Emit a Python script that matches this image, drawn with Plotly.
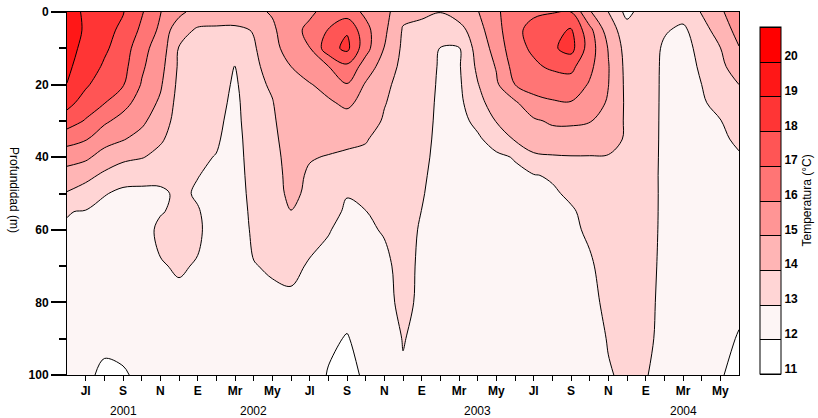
import numpy as np
import plotly.graph_objects as go

# Sample depths (m), top to bottom
depths = [0, 5, 10, 15, 20, 25, 30, 35, 40, 45, 50, 55, 60, 70, 80, 90, 100]

# Monthly temperature profiles (degC); month index 0 = June 2001
profiles_2001 = [  # Jun - Dec 2001
    [19.8, 19.6, 19.4, 19.2, 18.98, 18.34, 17.48, 16.4, 15.4, 14.6, 13.93, 13.03, 12.94, 12.8, 12.7, 12.55, 12.4],
    [18.7, 18.85, 18.7, 18.5, 18.15, 17.56, 16.92, 16.08, 15.18, 14.3, 13.55, 12.95, 12.85, 12.7, 12.5, 12.3, 12.1],
    [18.4, 18.3, 18.15, 17.88, 17.46, 17.04, 16.18, 15.38, 14.6, 13.81, 13.03, 12.85, 12.7, 12.5, 12.3, 12.12, 11.9],
    [18.05, 17.8, 17.56, 17.32, 17.07, 16.36, 15.65, 15.06, 14.31, 13.2, 12.9, 12.8, 12.7, 12.5, 12.3, 12.15, 11.95],
    [17.1, 16.8, 16.3, 16.15, 15.93, 15.56, 15.19, 14.69, 14.06, 13.15, 12.9, 12.8, 12.7, 12.5, 12.35, 12.2, 12.1],
    [16.03, 15.8, 15.57, 15.35, 15.13, 14.85, 14.5, 14.14, 13.7, 13.24, 12.85, 12.95, 13.15, 12.95, 12.75, 12.55, 12.35],
    [15.3, 14.3, 13.95, 13.85, 13.75, 13.65, 13.6, 13.5, 13.35, 13.22, 13.15, 13.15, 13.15, 13.07, 12.85, 12.6, 12.4],
]
profiles_2002 = [  # Jan - Dec 2002
    [14.5, 13.9, 13.75, 13.62, 13.5, 13.4, 13.3, 13.2, 13.12, 13.02, 12.92, 13.05, 13.12, 12.95, 12.8, 12.6, 12.4],
    [14.5, 13.85, 13.7, 13.55, 13.45, 13.35, 13.2, 13.1, 12.97, 12.85, 12.75, 12.7, 12.65, 12.6, 12.5, 12.4, 12.3],
    [14.6, 13.8, 13.25, 12.97, 12.85, 12.75, 12.7, 12.65, 12.6, 12.57, 12.55, 12.52, 12.5, 12.45, 12.4, 12.35, 12.3],
    [14.75, 14.05, 13.9, 13.8, 13.7, 13.65, 13.6, 13.5, 13.45, 13.38, 13.3, 13.22, 13.15, 12.97, 12.8, 12.6, 12.45],
    [15.1, 14.8, 14.59, 14.36, 14.14, 13.95, 13.85, 13.75, 13.65, 13.62, 13.6, 13.5, 13.4, 13.08, 12.85, 12.6, 12.45],
    [15.7, 15.7, 15.55, 15.0, 14.85, 14.75, 14.6, 14.5, 14.4, 14.3, 14.22, 13.98, 13.75, 13.25, 12.8, 12.6, 12.45],
    [15.85, 16.2, 15.98, 15.4, 14.95, 14.75, 14.5, 14.3, 14.06, 13.88, 13.8, 13.55, 13.35, 12.9, 12.75, 12.6, 12.4],
    [16.3, 17.05, 17.6, 15.98, 15.25, 14.9, 14.6, 14.3, 13.95, 13.75, 13.55, 13.35, 13.05, 12.75, 12.45, 12.15, 11.95],
    [16.5, 17.9, 18.25, 16.8, 15.95, 15.15, 14.7, 14.2, 13.85, 13.5, 13.05, 12.85, 12.75, 12.55, 12.3, 11.95, 11.8],
    [15.8, 16.3, 16.35, 15.55, 14.9, 14.75, 14.45, 14.05, 13.85, 13.6, 13.3, 12.98, 12.9, 12.75, 12.5, 12.3, 12.1],
    [15.35, 15.2, 14.97, 14.55, 14.2, 14.05, 13.9, 13.75, 13.62, 13.5, 13.38, 13.25, 13.05, 12.85, 12.75, 12.45, 12.3],
    [14.25, 13.92, 13.82, 13.75, 13.68, 13.62, 13.56, 13.5, 13.45, 13.4, 13.35, 13.3, 13.25, 13.22, 13.2, 13.04, 12.92],
]
profiles_2003 = [  # Jan - Dec 2003
    [14.1, 13.85, 13.75, 13.68, 13.6, 13.52, 13.45, 13.35, 13.25, 13.15, 13.07, 12.99, 12.93, 12.88, 12.85, 12.78, 12.7],
    [14.02, 13.45, 12.97, 12.85, 12.8, 12.75, 12.72, 12.7, 12.68, 12.65, 12.63, 12.6, 12.58, 12.55, 12.5, 12.45, 12.4],
    [14.5, 13.6, 12.95, 12.9, 12.85, 12.8, 12.75, 12.72, 12.7, 12.67, 12.65, 12.63, 12.6, 12.55, 12.5, 12.45, 12.4],
    [14.95, 14.65, 14.4, 14.2, 13.95, 13.6, 13.2, 12.88, 12.8, 12.75, 12.72, 12.7, 12.68, 12.63, 12.58, 12.5, 12.45],
    [15.8, 15.6, 15.35, 15.07, 14.85, 14.6, 14.05, 13.35, 12.85, 12.8, 12.75, 12.72, 12.7, 12.66, 12.62, 12.55, 12.5],
    [16.7, 16.85, 16.7, 16.4, 16.0, 14.85, 14.5, 14.1, 13.05, 12.85, 12.8, 12.75, 12.72, 12.68, 12.62, 12.55, 12.5],
    [16.9, 17.2, 17.15, 16.85, 16.3, 15.75, 14.85, 14.45, 13.85, 12.95, 12.85, 12.8, 12.78, 12.72, 12.66, 12.6, 12.55],
    [16.95, 17.65, 17.85, 17.15, 16.5, 15.9, 15.15, 14.55, 13.92, 13.1, 12.88, 12.82, 12.8, 12.75, 12.7, 12.65, 12.6],
    [17.0, 18.1, 18.35, 17.25, 16.6, 15.95, 15.15, 14.6, 13.95, 13.55, 13.15, 12.9, 12.85, 12.8, 12.75, 12.7, 12.65],
    [15.1, 16.3, 16.5, 16.25, 15.9, 15.5, 15.05, 14.55, 13.95, 13.65, 13.42, 13.25, 13.12, 12.9, 12.8, 12.7, 12.65],
    [14.0, 14.5, 14.95, 15.05, 15.02, 14.9, 14.6, 14.3, 13.95, 13.75, 13.6, 13.5, 13.42, 13.3, 13.17, 13.04, 12.95],
    [12.7, 13.45, 13.6, 13.7, 13.75, 13.8, 13.85, 13.9, 13.8, 13.7, 13.6, 13.52, 13.45, 13.35, 13.25, 13.18, 13.12],
]
profiles_2004 = [  # Jan - Jun 2004
    [13.55, 13.6, 13.58, 13.55, 13.52, 13.5, 13.48, 13.46, 13.43, 13.4, 13.37, 13.34, 13.3, 13.22, 13.15, 13.1, 13.02],
    [13.3, 13.1, 12.85, 12.8, 12.8, 12.8, 12.8, 12.8, 12.8, 12.8, 12.82, 12.83, 12.84, 12.85, 12.86, 12.87, 12.87],
    [13.4, 12.8, 12.7, 12.65, 12.62, 12.6, 12.58, 12.56, 12.55, 12.53, 12.52, 12.5, 12.48, 12.45, 12.42, 12.38, 12.35],
    [14.05, 13.6, 13.25, 13.12, 13.0, 12.88, 12.8, 12.75, 12.72, 12.7, 12.68, 12.65, 12.62, 12.57, 12.52, 12.47, 12.42],
    [14.85, 14.45, 13.98, 13.8, 13.6, 13.32, 12.97, 12.85, 12.8, 12.75, 12.7, 12.65, 12.6, 12.5, 12.35, 12.2, 12.05],
    [15.6, 15.35, 14.95, 14.45, 14.0, 13.72, 13.42, 13.15, 12.92, 12.82, 12.72, 12.62, 12.52, 12.35, 12.15, 11.95, 11.8],
]

# Isotherm levels and fill colour of each 1-degree band (11-12 ... 20-21)
levels = [11, 12, 13, 14, 15, 16, 17, 18, 19, 20, 21]
band_colors = ["#FFFFFF", "#FDF5F5", "#FFD5D5", "#FFB5B5", "#FF9595",
               "#FF7575", "#FF5555", "#FF3535", "#FF1717", "#FF0000"]

# Month ticks (one per month) and their labels
month_ticks = list(range(1, 36))
month_labels = ["Jl", "", "S", "", "N", "", "E", "", "Mr", "", "My", "",
                "Jl", "", "S", "", "N", "", "E", "", "Mr", "", "My", "",
                "Jl", "", "S", "", "N", "", "E", "", "Mr", "", "My"]
year_labels = ["2001", "2002", "2003", "2004"]
year_label_months = [3, 10, 22, 33]

profiles = profiles_2001 + profiles_2002 + profiles_2003 + profiles_2004
months = list(range(len(profiles)))
z = np.array(profiles).T  # rows = depth, columns = month

zmin, zmax = levels[0], levels[-1]
nb = len(band_colors)

# Filled-contour colour map: below first level, each band, above last level
stop_colors = [band_colors[0]] + band_colors + [band_colors[-1]]
n = len(stop_colors) - 1
fill_scale = [[i / n, c] for i, c in enumerate(stop_colors)]

# Stepped scale over [zmin, zmax] used for the colour bar
step_scale = []
for i, c in enumerate(band_colors):
    step_scale.append([i / nb, c])
    step_scale.append([(i + 1) / nb, c])

FONT = "Liberation Sans, Arial, sans-serif"
contour_levels = dict(start=zmin, end=zmax, size=1)

fig = go.Figure()

# Temperature section
fig.add_trace(go.Contour(
    x=months, y=depths, z=z,
    colorscale=fill_scale,
    contours=dict(**contour_levels, coloring="fill", showlines=True),
    line=dict(color="black", width=1, smoothing=1.0),
    showscale=False,
    hoverinfo="skip",
))

# Legend bar for the isotherm bands (trace itself lies outside the x range)
fig.add_trace(go.Contour(
    x=[-3, -2], y=[0, 100], z=[[zmin, zmax], [zmin, zmax]],
    zmin=zmin, zmax=zmax,
    colorscale=step_scale,
    contours=dict(**contour_levels, coloring="heatmap", showlines=True),
    line=dict(color="black", width=1),
    hoverinfo="skip",
    colorbar=dict(
        x=1.031, xanchor="left", xpad=0,
        y=0.003, yanchor="bottom", ypad=0,
        len=347, lenmode="pixels", thickness=21,
        outlinewidth=1, outlinecolor="black",
        tickvals=[v + 0.16 for v in levels[:-1]],
        ticktext=[str(v) for v in levels[:-1]],
        ticks="",
        tickfont=dict(family=FONT, size=12, color="black", weight="bold"),
        title=dict(text="Temperatura (°C)", side="right",
                   font=dict(family=FONT, size=12, color="black")),
    ),
))

fig.update_xaxes(
    range=[0, 36],
    tickvals=month_ticks, ticktext=month_labels,
    ticks="outside", ticklen=5, tickcolor="black", tickwidth=1,
    tickfont=dict(family=FONT, size=12, color="black", weight="bold"),
    showline=True, mirror=True, linecolor="black", linewidth=1,
    showgrid=False, zeroline=False,
)
fig.update_yaxes(
    range=[100, 0],
    tickvals=[0, 20, 40, 60, 80, 100],
    ticks="outside", ticklen=15, tickcolor="black", tickwidth=1.5,
    minor=dict(tickvals=[10, 30, 50, 70, 90], ticks="outside", ticklen=7,
               tickcolor="black", tickwidth=1.5),
    tickfont=dict(family=FONT, size=12, color="black", weight="bold"),
    showline=True, mirror=True, linecolor="black", linewidth=1,
    showgrid=False, zeroline=False,
)

annotations = [
    dict(text="Profundidad (m)", textangle=90, x=-0.079, y=0.51,
         xref="paper", yref="paper", xanchor="center", yanchor="middle",
         showarrow=False, font=dict(family=FONT, size=12, color="black"))
]
for label, m in zip(year_labels, year_label_months):
    annotations.append(dict(text=label, x=m, y=-0.099, xref="x", yref="paper",
                            showarrow=False, xanchor="center", yanchor="middle",
                            font=dict(family=FONT, size=12, color="black")))

fig.update_layout(
    width=818, height=418,
    margin=dict(l=67, r=79, t=12, b=43, autoexpand=False),
    paper_bgcolor="white", plot_bgcolor="white",
    annotations=annotations,
    showlegend=False,
)

fig.write_html("out.html")
